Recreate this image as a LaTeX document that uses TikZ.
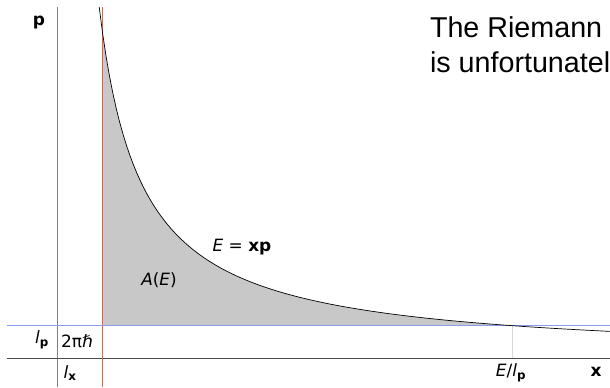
\documentclass[tikz,border=0pt]{standalone}
\usepackage{fontspec}
\setmainfont{DejaVu Sans}
\newfontfamily\slidefont{Liberation Sans}
\definecolor{lxred}{RGB}{250,90,60}
\definecolor{lpblue}{RGB}{140,156,240}
\definecolor{areagray}{RGB}{200,200,200}

\begin{document}
\begin{tikzpicture}[x=1bp,y=1bp,
  lbl/.style={font=\fontsize{17}{20}\selectfont, inner sep=0pt},
  slide/.style={font=\slidefont\fontsize{28.8}{35}\selectfont, inner sep=0pt, anchor=base west}]

% ----- Parameters -----
\def\K{14710}  % E
\def\XL{45.1}  % l_x
\def\PL{32.3}  % l_p
\def\XE{455.4} % E/l_p

\useasboundingbox (-57.3,-29) rectangle (552.7,358);

% ----- Shaded area -----
\fill[areagray] (\XL,\PL) -- plot[domain=\XL:\XE, samples=80] (\x,{\K/\x}) -- cycle;

% ----- Axes -----
\draw[gray, line width=0.8bp] (0,-29) -- (0,351);
\draw[black!70, line width=0.8bp] (-50,0) -- (552.7,0);

% ----- l_x, l_p and E/l_p -----
\draw[lxred, line width=0.8bp] (\XL,-29) -- (\XL,351);
\draw[lpblue, line width=0.8bp] (-50,\PL) -- (552.7,\PL);
\draw[black!15, line width=0.6bp] (\XE,0) -- (\XE,\PL);

% ----- Curve -----
\draw[line width=0.7bp] plot[domain=41.9:552.7, samples=150] (\x,{\K/\x});

% ----- Labels -----
\node[lbl] (plabel) at (-18.3,335) {\textbf{p}};
\node[lbl] (xlabel) at (538.7,-14) {\textbf{x}};
\node[lbl] (lp) at (-15.3,18) {\textit{l}\textsubscript{\textbf{p}}};
\node[lbl] (hbar) at (19.7,17) {2πℏ};
\node[lbl] (lx) at (12.7,-15) {\textit{l}\textsubscript{\textbf{x}}};
\node[lbl] (elp) at (453.7,-15) {\textit{E}/\textit{l}\textsubscript{\textbf{p}}};
\node[lbl] (curve) at (184.7,111) {\textit{E} = \textbf{xp}};
\node[lbl] (area) at (101.7,78) {\textit{A}(\textit{E})};

% ----- Slide text -----
\node[slide] (line1) at (372.5,321) {The Riemann};
\node[slide] (line2) at (372.5,286) {is unfortunatel};

\end{tikzpicture}
\end{document}
